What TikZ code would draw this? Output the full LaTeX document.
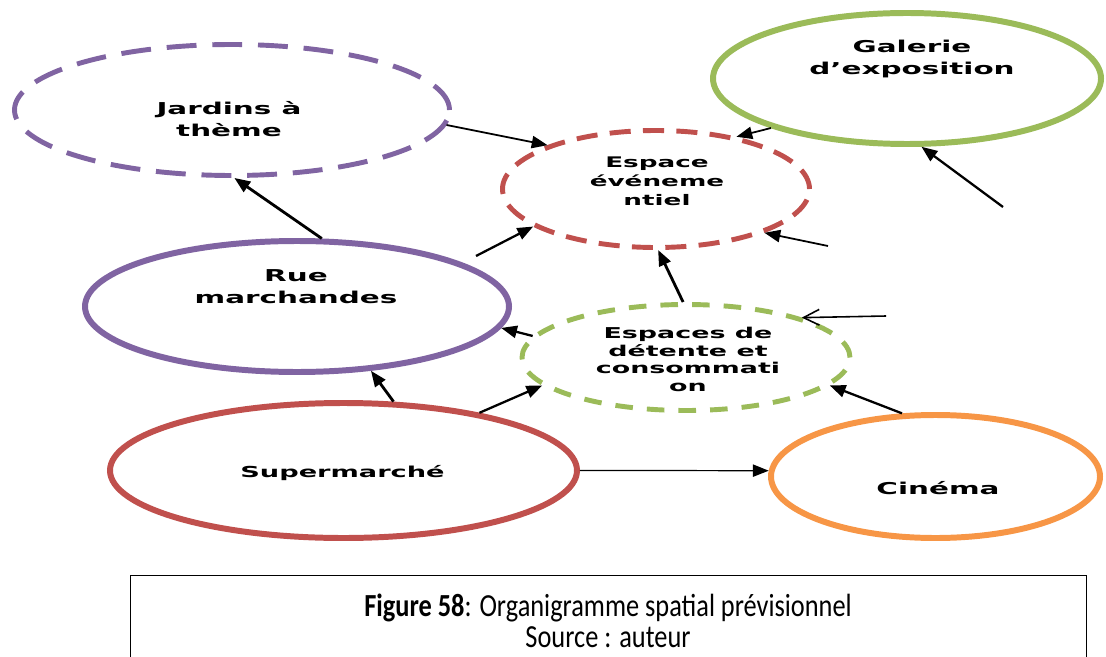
\documentclass[tikz,border=0pt]{standalone}
\usepackage{fontspec}
\setmainfont{Carlito}
\newfontfamily\labelfont[FakeStretch=1.8]{DejaVu Sans Bold}
\usetikzlibrary{positioning,arrows.meta,shapes.geometric}
\definecolor{PlanPurple}{RGB}{128,100,162}
\definecolor{PlanRed}{RGB}{192,80,77}
\definecolor{PlanGreen}{RGB}{155,187,89}
\definecolor{PlanOrange}{RGB}{247,150,70}

\begin{document}
\begin{tikzpicture}[every node/.style={align=center}]
  \tikzset{
    zone/.style={ellipse, draw, line width=3.4pt, inner sep=0pt},
    dashzone/.style={zone, line width=2.8pt},
    tag/.style={font=\labelfont\fontsize{9.3}{12.5}\selectfont},
    link/.style={-{Triangle[length=9pt,width=7pt]}, line width=1pt},
    boldlink/.style={-{Triangle[length=9pt,width=7pt]}, line width=1.6pt}
  }
  \useasboundingbox (0,0) rectangle (22.12,-13.14);
  % zones
  \node[dashzone, PlanPurple, dash pattern=on 17pt off 9pt, minimum width=8.7cm, minimum height=2.62cm] (jardins) at (4.64,-2.20) {};
  \node[tag] (jardinstxt) at (4.58,-2.38) {Jardins à\\thème};
  \node[zone, PlanGreen, minimum width=7.76cm, minimum height=2.62cm] (galerie) at (18.14,-1.57) {};
  \node[tag] (galerietxt) at (18.24,-1.18) {Galerie\\d’exposition};
  \node[dashzone, PlanRed, dash pattern=on 12pt off 7pt, minimum width=6.14cm, minimum height=2.34cm] (espace) at (13.12,-3.78) {};
  \node[tag, font=\labelfont\fontsize{8.3}{10.8}\selectfont] (espacetxt) at (13.14,-3.62) {Espace\\événeme\\ntiel};
  \node[zone, PlanPurple, minimum width=8.48cm, minimum height=2.62cm] (rue) at (5.94,-6.13) {};
  \node[tag] (ruetxt) at (5.92,-5.74) {Rue\\marchandes};
  \node[dashzone, PlanGreen, dash pattern=on 10pt off 8pt, minimum width=6.56cm, minimum height=2.12cm] (detente) at (13.72,-7.15) {};
  \node[tag, font=\labelfont\fontsize{8.5}{10}\selectfont] (detentetxt) at (13.76,-7.19) {Espaces de\\détente et\\consommati\\on};
  \node[zone, PlanRed, minimum width=9.34cm, minimum height=2.7cm] (super) at (6.87,-9.41) {};
  \node[tag, font=\labelfont\fontsize{8.6}{12.5}\selectfont] (supertxt) at (6.85,-9.46) {Supermarché};
  \node[zone, PlanOrange, minimum width=6.58cm, minimum height=2.46cm] (cinema) at (18.71,-9.53) {};
  \node[tag] (cinematxt) at (18.76,-9.76) {Cinéma};
  % free ends
  \coordinate (feedgalerie) at (20.06,-4.14);
  \coordinate (feedespace) at (16.56,-4.92);
  \coordinate (feedrue) at (9.52,-5.12);
  \coordinate (feeddetente) at (17.72,-6.32);
  % links
  \draw[link] (jardins.-4) -- (espace.158);
  \draw[link] (galerie.-160) -- (espace.33);
  \draw[link, line width=1.3pt] (feedgalerie) -- (galerie.-78);
  \draw[link] (feedespace) -- (espace.-22);
  \draw[boldlink] (rue.70) -- (jardins.-88);
  \draw[link, line width=1.3pt] (feedrue) -- (espace.-163);
  \draw[boldlink] (detente.93) -- (espace.-88);
  \draw[-{Straight Barb[length=9pt,width=9pt]}, line width=0.9pt] (feeddetente) -- (detente.19);
  \draw[link, line width=1.3pt] (detente.172) -- (rue.-6.5);
  \draw[boldlink] (super.54) -- (rue.-41);
  \draw[link, line width=1.3pt] (super.23) -- (detente.-169);
  \draw[link, line width=1.3pt] (cinema.118) -- (detente.-11);
  \draw[link, line width=0.7pt] (super.east) -- (cinema.178);
  % caption
  \node[draw, line width=0.8pt, minimum width=19.12cm, minimum height=2.4cm, anchor=north west, inner sep=0pt] (captionbox) at (2.6,-11.5) {};
  \node[font=\fontsize{15}{14.5}\selectfont, yscale=1.22, transform shape] (captiontxt) at (12.16,-12.41) {\textbf{Figure 58}: Organigramme spatial prévisionnel\\Source : auteur};
\end{tikzpicture}
\end{document}
